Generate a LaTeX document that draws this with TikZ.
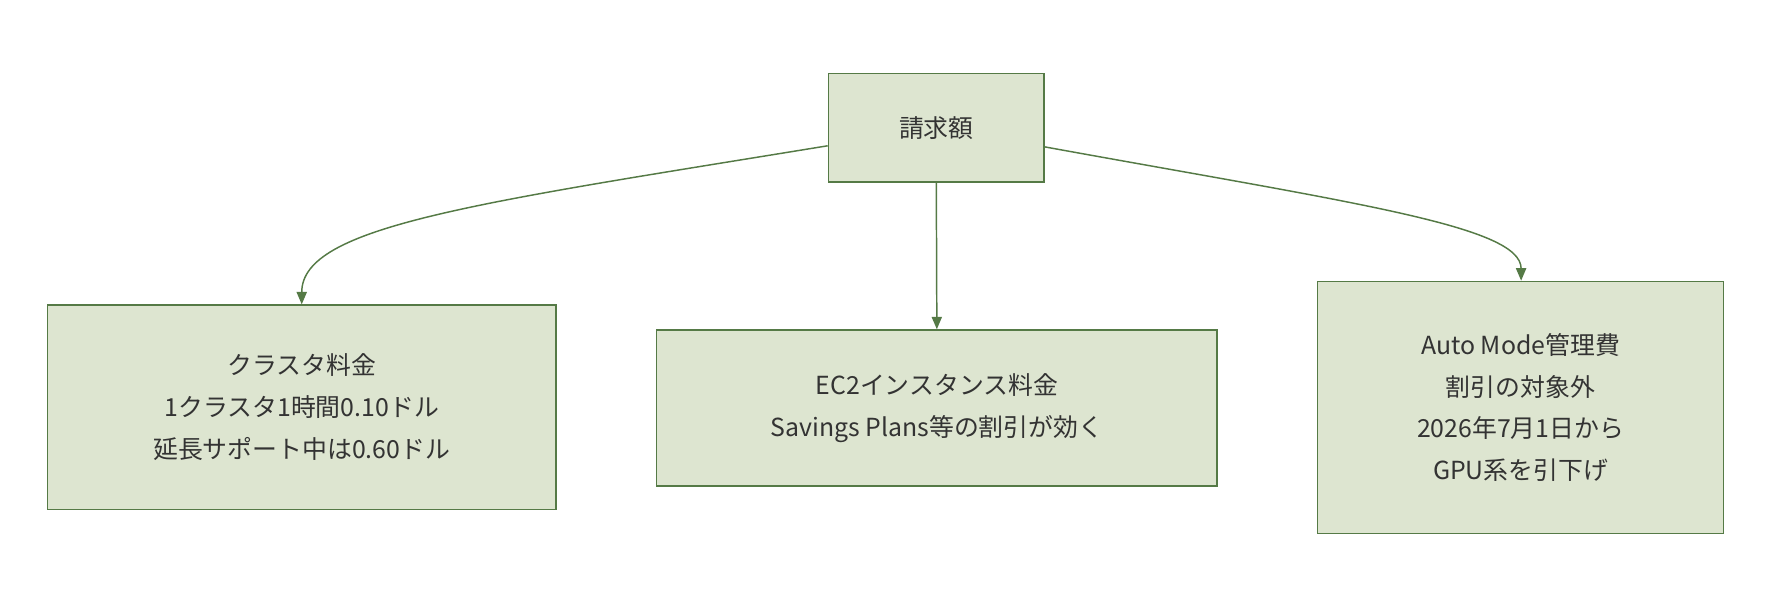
\documentclass[tikz,border=0pt]{standalone}
\usepackage{fontspec}
\setmainfont{Noto Sans CJK JP}
\usetikzlibrary{arrows.meta}
\definecolor{fillc}{HTML}{DDE5D0}
\definecolor{linec}{HTML}{557A46}
\definecolor{txt}{HTML}{333333}
\begin{document}
\begin{tikzpicture}[x=1pt,y=-1pt,
 box/.style={draw=linec,fill=fillc,line width=1.3pt,inner sep=0pt,text=txt,align=center,font=\fontsize{22}{37}\selectfont},
 conn/.style={draw=linec,line width=1.3pt,-{Triangle[length=11pt,width=9pt]}}]
\useasboundingbox (0,0) rectangle (1568,542);
\node[box,minimum width=191pt,minimum height=96pt] (top) at (828.5,113) {請求額};
\node[box,minimum width=450pt,minimum height=181pt] (l) at (267,360.5) {クラスタ料金\\1クラスタ1時間0.10ドル\\延長サポート中は0.60ドル};
\node[box,minimum width=496pt,minimum height=138pt] (m) at (829,361) {EC2インスタンス料金\\Savings Plans等の割引が効く};
\node[box,minimum width=359pt,minimum height=223pt] (r) at (1345.5,360.5) {Auto Mode管理費\\割引の対象外\\2026年7月1日から\\GPU系を引下げ};
\draw[conn] (top.west |- 0,129) .. controls (420,180) and (267,200) .. (l.north);
\draw[conn] (top.south) -- (m.north);
\draw[conn] (top.east |- 0,130) .. controls (1200,180) and (1346,200) .. (r.north -| 1346,0);
\end{tikzpicture}
\end{document}
